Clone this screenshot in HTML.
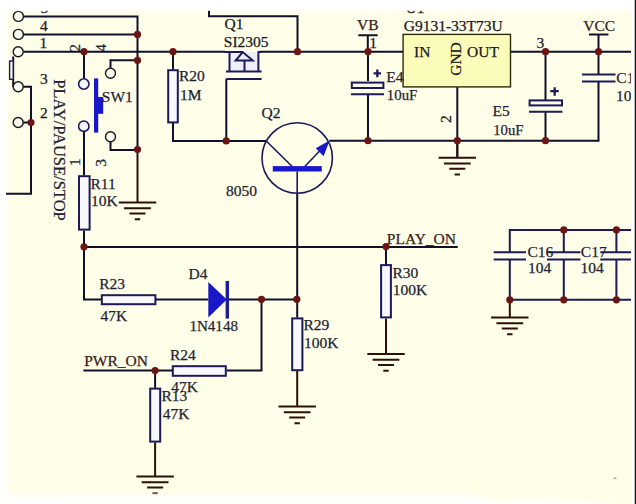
<!DOCTYPE html>
<html><head><meta charset="utf-8">
<style>
html,body{margin:0;padding:0;background:#fff;}
body{width:636px;height:504px;overflow:hidden;}
svg{display:block;}
text{font-family:"Liberation Serif",serif;font-size:15.5px;fill:#1e1e34;stroke:#1e1e34;stroke-width:0.25px;}
.w{stroke:#10102a;stroke-width:2;fill:none;}
.n{stroke:#1c1a58;stroke-width:2;fill:none;}
.nf{stroke:#1c1a58;stroke-width:2;fill:#f8f8fc;}
.t{stroke:#181818;stroke-width:1.4;fill:#fbfbf2;}
.b{fill:#1818c8;}
.g{stroke:#2e100a;stroke-width:2;fill:none;}
.j{fill:#6b1515;}
.br{fill:#35201a;stroke:#35201a;}
.dk{fill:#18181e;stroke:#18181e;}
</style></head><body>
<svg width="636" height="504" viewBox="0 0 636 504">
<defs>
<linearGradient id="gt" x1="0" y1="0" x2="0" y2="1"><stop offset="0" stop-color="#fff"/><stop offset="1" stop-color="#fff" stop-opacity="0"/></linearGradient>
<linearGradient id="gt2" x1="0" y1="0" x2="0" y2="1"><stop offset="0" stop-color="#fff"/><stop offset="0.72" stop-color="#fff"/><stop offset="0.83" stop-color="#fff" stop-opacity="0"/></linearGradient>
<linearGradient id="gb" x1="0" y1="1" x2="0" y2="0"><stop offset="0" stop-color="#fff"/><stop offset="0.5" stop-color="#fff"/><stop offset="1" stop-color="#fff" stop-opacity="0"/></linearGradient>
<linearGradient id="gl" x1="0" y1="0" x2="1" y2="0"><stop offset="0" stop-color="#fff"/><stop offset="0.4" stop-color="#fff"/><stop offset="1" stop-color="#fff" stop-opacity="0"/></linearGradient>
<filter id="bl" x="-0.1" y="-1" width="1.2" height="3"><feGaussianBlur stdDeviation="2.5"/></filter>
<filter id="bl2"><feGaussianBlur stdDeviation="0.6"/></filter>
<g id="gnd"><path class="g" d="M-18.7 0H18.7M-13.4 5.8H13.4M-8 11H8M-2.7 16.8H2.7"/></g>
</defs>
<rect x="0" y="0" width="636" height="504" fill="#fffee8"/>

<rect x="0" y="0" width="636" height="6.5" fill="#fff"/>
<rect x="0" y="6.5" width="636" height="6" fill="url(#gt)"/>
<rect x="0" y="0" width="10" height="504" fill="url(#gl)"/>
<!-- ===== wires ===== -->
<path class="w" d="M23.5 16.5H137.5V149"/>
<path class="w" d="M23.5 34.5H137.5"/>
<path class="w" d="M23.5 51.7H225M259.6 51.7H403M510.6 51.7H631"/>
<path class="w" d="M209 10V16.3H297.5V51.7"/>
<path class="w" d="M84 51.7V78.5"/>
<path class="w" d="M137.5 60.3H110.5V68"/>
<path class="w" d="M110.5 142V150H137.5"/>
<path class="w" d="M84 131.7V175.5M84 230.4V299.6H101"/>
<path class="w" d="M23 86.8H31V193.8H6"/>
<path class="w" d="M23 122.5H31"/>
<path class="w" d="M13.2 56.5V87"/>
<path class="w" d="M173 51.7V69.5M173 123V141H266"/>
<path class="w" d="M226.3 141V78.9"/>
<path class="w" d="M329.3 140.7H598.5V81.4"/>
<path class="w" d="M368 51.7V81M368 94.3V140.7"/>
<path class="w" d="M545.5 51.7V100M545.5 112V140.7"/>
<path class="w" d="M598.5 51.7V74.5"/>
<path class="w" d="M457.3 87V157.8"/>
<path class="w" d="M297.2 193.5V317.6"/>
<path class="w" d="M84 246.9H457.8"/>
<path class="w" d="M386 246.6V265.3"/>
<path class="w" d="M156 299.5H208.3M229 299.5H297.2"/>
<path class="w" d="M261.5 299.5V370.5H226.5M172.1 370.5H83.4"/>
<path class="w" d="M155.1 370.5V387.8"/>
<path class="n" d="M509.8 252.2V229.9H631M509.8 259.6V299.8H631M563.8 229.9V252.2M563.8 259.6V299.8M616.4 229.9V252.2M616.4 259.6V299.8"/>
<!-- ground legs -->
<path class="g" d="M137.5 149V202.5M457.3 140.7V157.8M386 318.5V354M297.2 370.8V406.4M155.1 442.3V476.4M509.8 299.8V317.4"/>
<use href="#gnd" x="137.5" y="202.5"/>
<use href="#gnd" x="457.3" y="157.8"/>
<use href="#gnd" x="386" y="354"/>
<use href="#gnd" x="297.2" y="406.4"/>
<use href="#gnd" x="155.1" y="476.4"/>
<use href="#gnd" x="509.8" y="317.4"/>
<!-- power ports -->
<path class="w" d="M358.3 35.2H377.7M367.8 35.2V51.7M589 34.5H608.4M598.5 34.5V51.7"/>

<!-- ===== components ===== -->
<!-- connector circles -->
<circle class="t" cx="18.4" cy="16.4" r="5"/>
<circle class="t" cx="18.4" cy="34.4" r="5"/>
<circle class="t" cx="18.2" cy="51.8" r="5"/>
<circle class="t" cx="18.2" cy="86.8" r="5"/>
<circle class="t" cx="18.2" cy="122.5" r="5"/>
<rect x="9.6" y="61" width="3.6" height="18.3" fill="#fffee8" stroke="#1c1a58" stroke-width="1.4"/>
<!-- SW1 -->
<circle cx="83.8" cy="84" r="5.2" fill="#f4f4fb" stroke="#1c1a58" stroke-width="1.6"/>
<circle cx="83.8" cy="126.2" r="5.2" fill="#f4f4fb" stroke="#1c1a58" stroke-width="1.6"/>
<circle class="t" cx="110.5" cy="73.2" r="5"/>
<circle class="t" cx="110.5" cy="136.8" r="5"/>
<rect class="b" x="94" y="78.4" width="4.2" height="54.2"/>
<rect class="b" x="97" y="97" width="6.2" height="16.8"/>
<!-- resistors -->
<rect class="nf" x="168.2" y="70.2" width="9.6" height="52.2"/>
<rect class="nf" x="79" y="176.2" width="10.6" height="53.4"/>
<rect class="nf" x="101.8" y="295.2" width="53.6" height="9"/>
<rect class="nf" x="172.8" y="366.2" width="53" height="9.6"/>
<rect class="nf" x="150.2" y="388.6" width="10" height="53"/>
<rect class="nf" x="292.2" y="318.4" width="10.2" height="51.8"/>
<rect class="nf" x="381.1" y="265.1" width="9.8" height="52.3"/>
<!-- MOSFET Q1 -->
<rect x="229.5" y="52.1" width="28.9" height="19.3" fill="#eeeef8"/>
<path class="n" d="M224 52.1H242.7M229.5 52.1V71.4M258.4 71.4V52.1H261M226 71.4H261.6M226.3 78.9H261.6M244.5 60.6V71.4"/>
<path class="n" d="M242.7 52.1L235.6 60.6H252.7Z" stroke-width="1.8"/>
<!-- regulator -->
<rect x="403.1" y="34.4" width="107.4" height="52.5" fill="#fcfcba" stroke="#2e2a10" stroke-width="1.4"/>
<!-- E4 -->
<rect class="n" x="351.8" y="82.6" width="31.6" height="5.4" fill="#f4f4fb"/>
<path class="n" d="M351 94.3H384"/>
<path d="M373.6 73.3H381M377.3 69.4V77.3" stroke="#1e1a5a" stroke-width="2.3"/>
<!-- E5 -->
<rect class="n" x="529.6" y="100.4" width="32.4" height="5" fill="#f4f4fb"/>
<path class="n" d="M529 111.8H562.5"/>
<path d="M550.3 91.2H558.8M554.7 87.3V95.7" stroke="#1e1a5a" stroke-width="2.3"/>
<!-- C1 -->
<path class="n" d="M582 74.5H615.5M582 81.4H615.5"/>
<!-- C16 C17 C? -->
<path class="n" d="M493.7 252.2H526M493.7 259.6H526M547 252.2H580.5M547 259.6H580.5M600.3 252.2H631M600.3 259.6H631"/>
<!-- Q2 -->
<circle cx="297.2" cy="158" r="35.2" fill="none" stroke="#1c1a58" stroke-width="1.6"/>
<path d="M266 140.7L292.2 166.5M304.8 166.5L322 148.5M297.2 171.5V193.5" stroke="#1c1a58" stroke-width="1.6" fill="none"/>
<path class="b" d="M329.6 140.4L315.8 148.2L323.6 156.2Z"/>
<rect class="b" x="272.8" y="166.1" width="49" height="5.4"/>
<!-- D4 -->
<path class="b" d="M208.3 282.1V317.5L226.8 299.5Z"/>
<rect x="225.6" y="281" width="3.4" height="37.6" fill="#1c1c9a"/>

<!-- junctions -->
<g class="j">
<circle cx="137.5" cy="34.4" r="3.6"/>
<circle cx="84" cy="51.7" r="3.6"/>
<circle cx="173" cy="51.7" r="3.6"/>
<circle cx="297.5" cy="51.7" r="3.6"/>
<circle cx="368" cy="51.7" r="3.6"/>
<circle cx="545.5" cy="51.7" r="3.6"/>
<circle cx="598.5" cy="51.7" r="3.6"/>
<circle cx="137.5" cy="60.3" r="3.6"/>
<circle cx="137.5" cy="149.5" r="3.6"/>
<circle cx="31" cy="122.5" r="3.6"/>
<circle cx="226.2" cy="140.9" r="3.6"/>
<circle cx="368" cy="140.7" r="3.6"/>
<circle cx="457.3" cy="140.7" r="3.6"/>
<circle cx="545.5" cy="140.7" r="3.6"/>
<circle cx="84" cy="246.8" r="3.6"/>
<circle cx="386" cy="246.6" r="3.6"/>
<circle cx="261.5" cy="299.3" r="3.6"/>
<circle cx="296.8" cy="299.3" r="3.6"/>
<circle cx="155.1" cy="370.5" r="3.6"/>
<circle cx="563.8" cy="229.9" r="3.6"/>
<circle cx="616.4" cy="229.9" r="3.6"/>
<circle cx="509.8" cy="299.8" r="3.6"/>
<circle cx="563.8" cy="299.8" r="3.6"/>
<circle cx="616.4" cy="299.8" r="3.6"/>
</g>

<!-- ===== text ===== -->
<g>
<text class="dk" x="40.0" y="31.0">4</text>
<text class="dk" x="39.5" y="48.0">1</text>
<text class="dk" x="40.0" y="83.8">3</text>
<text class="dk" x="40.0" y="118.3">2</text>
<text class="dk" x="405.5" y="12.5">U1</text>
<text class="dk" x="40.5" y="12.5">5</text>
</g>
<text x="224.5" y="28.8" class="dk">Q1</text>
<text x="223.8" y="46.8" class="dk">SI2305</text>
<text x="179.0" y="80.5">R20</text>
<text x="180.0" y="99.5">1M</text>
<text x="101.8" y="101.8">SW1</text>
<text x="357.1" y="30.4" class="br">VB</text>
<text x="369.2" y="47.7" class="dk">1</text>
<text x="403.7" y="30.6" class="dk">G9131-33T73U</text>
<text x="414.0" y="56.5" class="dk">IN</text>
<text x="467.1" y="56.5" class="dk">OUT</text>
<text transform="translate(460.9 75.8) rotate(-90)" class="dk">GND</text>
<text x="386.3" y="81.5">E4</text>
<text x="386.8" y="99.8" textLength="30.5" lengthAdjust="spacingAndGlyphs">10uF</text>
<text x="536.5" y="47.7" class="dk">3</text>
<text x="583.3" y="30.7" class="br">VCC</text>
<text x="616.3" y="82.8">C1</text>
<text x="616" y="100.7">10</text>
<text x="492.5" y="116.2">E5</text>
<text x="493.2" y="134.6" textLength="30.3" lengthAdjust="spacingAndGlyphs">10uF</text>
<text transform="translate(451.1 123.0) rotate(-90)" class="dk">2</text>
<text x="261.5" y="118">Q2</text>
<text x="226.0" y="196.1">8050</text>
<text x="90.5" y="188.9">R11</text>
<text x="91.0" y="206.1">10K</text>
<text transform="translate(53.6 79.2) rotate(90)" style="font-size:16.5px">PLAY/PAUSE/STOP</text>
<text transform="translate(80.2 51.8) rotate(-90)">2</text>
<text transform="translate(106.2 51.7) rotate(-90)">4</text>
<text transform="translate(80.2 166.0) rotate(-90)">1</text>
<text transform="translate(106.2 166.8) rotate(-90)">3</text>
<text x="386.8" y="243.5" class="br">PLAY_ON</text>
<text x="392.5" y="277.9">R30</text>
<text x="392.8" y="294.5">100K</text>
<text x="188.5" y="279.0">D4</text>
<text x="189.4" y="330.9" textLength="48.6" lengthAdjust="spacingAndGlyphs">1N4148</text>
<text x="99.2" y="288.6">R23</text>
<text x="100.5" y="320.6">47K</text>
<text x="303.5" y="329.8">R29</text>
<text x="304.0" y="348.0">100K</text>
<text x="84.2" y="366.2" class="br">PWR_ON</text>
<text x="169.9" y="359.8">R24</text>
<text x="171.2" y="392.3">47K</text>
<text x="161.5" y="401.2">R13</text>
<text x="162.8" y="419.2">47K</text>
<text x="527.4" y="257.2">C16</text>
<text x="527.9" y="273.4">104</text>
<text x="580.8" y="257.2">C17</text>
<text x="580.6" y="273.4">104</text>

<!-- edges -->
<rect x="0" y="0" width="636" height="14" fill="url(#gt2)"/>
<polygon points="-10,494.5 470,495 495,500.5 590,501.5 620,506 640,508 640,530 -10,530" fill="#fff" filter="url(#bl)"/>
<rect x="631" y="0" width="4" height="504" fill="#fff"/>
<rect x="635" y="0" width="1" height="504" fill="#111"/><rect x="634" y="0" width="1" height="504" fill="#bbb"/>
<path d="M612.3 478.8L616.5 476.6L616.2 479.2Z" fill="#8a8a70" opacity="0.6" filter="url(#bl2)"/>
</svg>
</body></html>
